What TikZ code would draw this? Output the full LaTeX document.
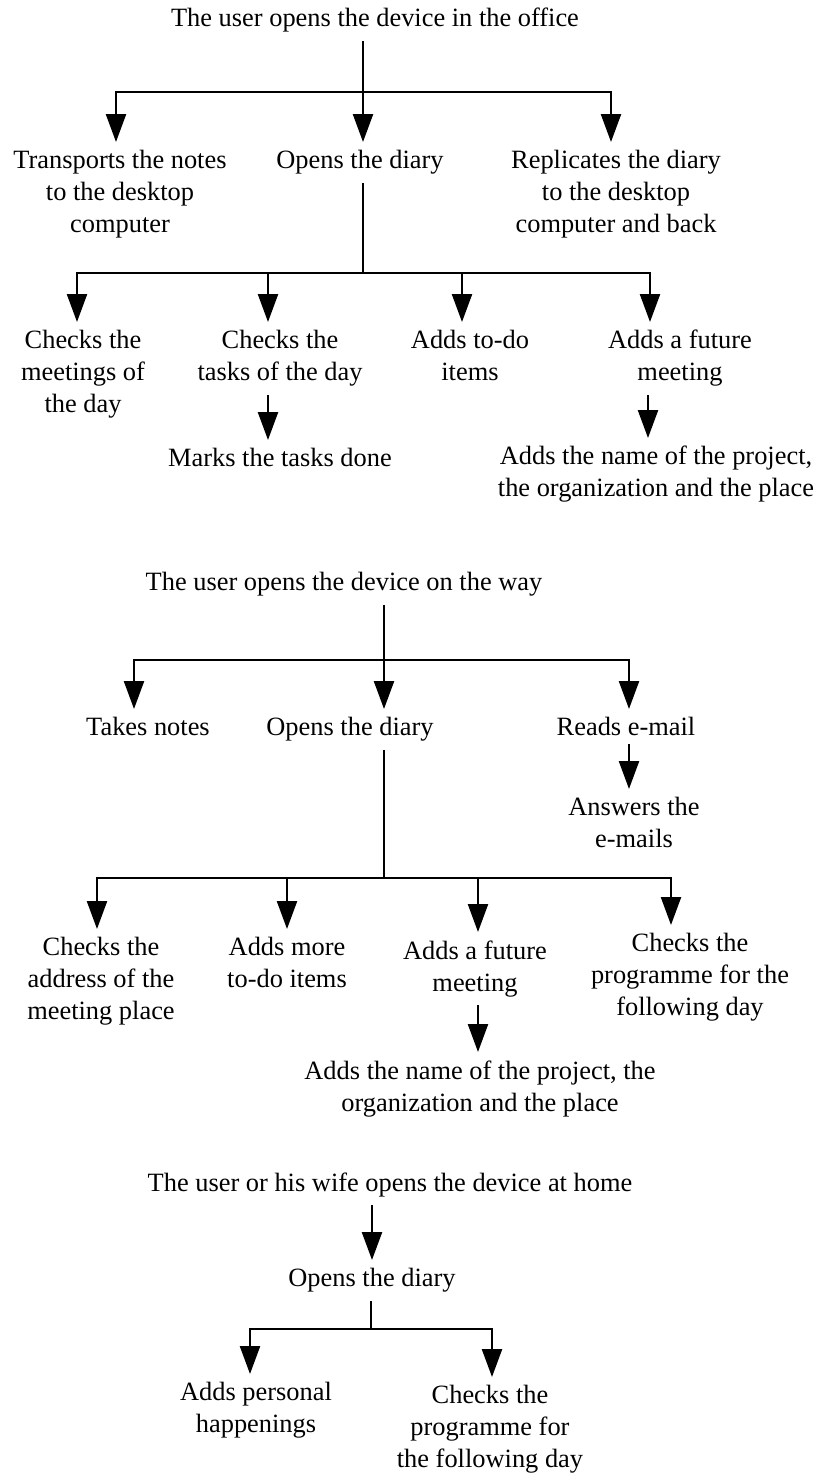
\documentclass[tikz,border=0pt]{standalone}
\usepackage{fontspec}
\setmainfont{Liberation Serif}
\usetikzlibrary{arrows.meta}

\begin{document}
\begin{tikzpicture}[
    x=0.5pt, y=-0.5pt,
    txt/.style={anchor=north, align=center, inner xsep=0pt, inner ysep=4pt,
                font=\fontsize{13.2}{16}\selectfont},
    ln/.style={line width=1.2pt},
    arr/.style={-{Triangle[length=14pt, width=10pt]}, line width=1.2pt},
  ]
    \useasboundingbox (0,0) rectangle (817,1474);

    % In the office
    \node[txt] (office) at (375,0) {The user opens the device in the office};
    \node[txt] (tr)  at (120,142) {Transports the notes\\to the desktop\\computer};
    \node[txt] (od1) at (360,142) {Opens the diary};
    \node[txt] (rep) at (616,142) {Replicates the diary\\to the desktop\\computer and back};
    \node[txt] (cm)  at (83,322)  {Checks the\\meetings of\\the day};
    \node[txt] (ct)  at (280,322) {Checks the\\tasks of the day};
    \node[txt] (td1) at (470,322) {Adds to-do\\items};
    \node[txt] (af1) at (680,322) {Adds a future\\meeting};
    \node[txt] (mk)  at (280,440) {Marks the tasks done};
    \node[txt] (an1) at (656,438) {Adds the name of the project,\\the organization and the place};
    \coordinate (j1) at (363,92);
    \coordinate (j2) at (363,273);

    \draw[ln]  (office.south -| j1) -- (j1);
    \draw[arr] (j1) -| ([xshift=-2pt]tr.north);
    \draw[arr] (j1) -- (j1 |- od1.north);
    \draw[arr] (j1) -| ([xshift=-2.5pt]rep.north);
    \draw[ln]  (od1.south -| j2) -- (j2);
    \draw[arr] (j2) -| ([xshift=-3pt]cm.north);
    \draw[arr] (j2) -| ([xshift=-6pt]ct.north);
    \draw[arr] (j2) -| ([xshift=-4pt]td1.north);
    \draw[arr] (j2) -| ([xshift=-15pt]af1.north);
    \draw[arr] ([xshift=-6pt]ct.south) -- ([xshift=-6pt]mk.north);
    \draw[arr] ([xshift=-16pt]af1.south) -- ([xshift=-4pt]an1.north);

    % On the way
    \node[txt] (way) at (344,564) {The user opens the device on the way};
    \node[txt] (tn)  at (148,709) {Takes notes};
    \node[txt] (od2) at (350,709) {Opens the diary};
    \node[txt] (re)  at (626,709) {Reads e-mail};
    \node[txt] (ae)  at (634,789) {Answers the\\e-mails};
    \node[txt] (ca)  at (101,929) {Checks the\\address of the\\meeting place};
    \node[txt] (am)  at (287,929) {Adds more\\to-do items};
    \node[txt] (af2) at (475,932) {Adds a future\\meeting};
    \node[txt] (cp)  at (690,925) {Checks the\\programme for the\\following day};
    \node[txt] (an2) at (480,1052) {Adds the name of the project, the\\organization and the place};
    \coordinate (j3) at (384,660);
    \coordinate (j4) at (384,878);

    \draw[ln]  (way.south -| j3) -- (j3);
    \draw[arr] (j3) -| ([xshift=-7pt]tn.north);
    \draw[arr] (j3) -- (j3 |- od2.north);
    \draw[arr] (j3) -| ([xshift=1.5pt]re.north);
    \draw[arr] ([xshift=1.5pt]re.south) -- ([xshift=-2.5pt]ae.north);
    \draw[ln]  (od2.south -| j4) -- (j4);
    \draw[arr] (j4) -| ([xshift=-2pt]ca.north);
    \draw[arr] (j4) -| (am.north);
    \draw[arr] (j4) -| ([xshift=1.5pt]af2.north);
    \draw[arr] (j4) -| ([xshift=-9.5pt]cp.north);
    \draw[arr] ([xshift=1.5pt]af2.south) -- ([xshift=-1pt]an2.north);

    % At home
    \node[txt] (home) at (390,1164) {The user or his wife opens the device at home};
    \node[txt] (od3)  at (372,1260) {Opens the diary};
    \node[txt] (ap)   at (256,1374) {Adds personal\\happenings};
    \node[txt] (cp3)  at (490,1377) {Checks the\\programme for\\the following day};
    \coordinate (j5) at (371,1329);

    \draw[arr] (od3.north |- home.south) -- (od3.north);
    \draw[ln]  (od3.south -| j5) -- (j5);
    \draw[arr] (j5) -| ([xshift=-3pt]ap.north);
    \draw[arr] (j5) -| ([xshift=1pt]cp3.north);
\end{tikzpicture}
\end{document}
